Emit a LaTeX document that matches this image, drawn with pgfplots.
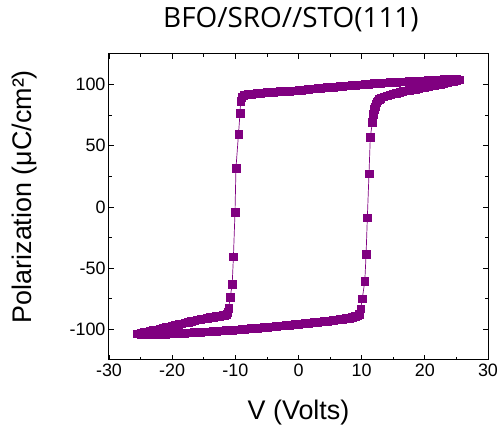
\documentclass[border=0pt]{standalone}
\usepackage{fontspec}
\setmainfont{Liberation Sans}
\newfontfamily\titlefont{Open Sans}
\usepackage{pgfplots}
\pgfplotsset{compat=1.18}
\definecolor{pm}{RGB}{128,0,128}
\begin{document}
\begin{tikzpicture}
\begin{axis}[
 scale only axis, width=379bp, height=306bp,
 xmin=-30, xmax=30, ymin=-125, ymax=125,
 xtick={-30,-20,...,30}, ytick={-100,-50,...,100},
 minor x tick num=1, minor y tick num=1,
 tick align=inside, major tick length=5bp, minor tick length=3bp,
 axis line style={line width=1pt},
 every tick/.style={black, line width=0.8pt},
 /pgf/number format/assume math mode=true,
 tick label style={font=\fontsize{18}{20}\selectfont},
 xlabel={V (Volts)}, ylabel={Polarization (μC/cm²)},
 label style={font=\fontsize{27}{30}\selectfont},
 xlabel style={at={(axis description cs:0.5,-0.196)}, anchor=base},
 ylabel style={at={(axis description cs:-0.222,0.534)}, anchor=center},
 title={BFO/SRO//STO(111)},
 title style={font=\titlefont\fontsize{28}{30}\selectfont, at={(axis description cs:0.48,1.0666)}, anchor=base},
]
\addplot[color=pm, line width=0.7pt, mark=square*, mark size=3.8bp,
  mark options={fill=pm, draw=pm, line width=0.3pt}] coordinates {
 (-25.5,-103.5) (-25,-104) (-24.5,-104) (-24,-104) (-23.5,-104) (-23,-104)
 (-22.5,-104) (-22,-104) (-21.5,-103.9) (-21,-103.8) (-20.5,-103.6) (-20,-103.5)
 (-19.5,-103.4) (-19,-103.3) (-18.5,-103.1) (-18,-103) (-17.5,-102.8) (-17,-102.6)
 (-16.5,-102.4) (-16,-102.3) (-15.5,-102.1) (-15,-102) (-14.5,-101.8) (-14,-101.7)
 (-13.5,-101.5) (-13,-101.3) (-12.5,-101.1) (-12,-101) (-11.5,-100.8) (-11,-100.6)
 (-10.5,-100.4) (-10,-100.3) (-9.5,-100.1) (-9,-99.9) (-8.5,-99.7) (-8,-99.5)
 (-7.5,-99.2) (-7,-99) (-6.5,-98.8) (-6,-98.6) (-5.5,-98.3) (-5,-98.1)
 (-4.5,-97.8) (-4,-97.6) (-3.5,-97.3) (-3,-97.1) (-2.5,-96.8) (-2,-96.6)
 (-1.5,-96.3) (-1,-96.1) (-0.5,-95.8) (0,-95.6) (0.5,-95.3) (1,-95.1)
 (1.5,-94.8) (2,-94.6) (2.5,-94.3) (3,-94) (3.5,-93.7) (4,-93.4)
 (4.5,-93.1) (5,-92.8) (5.5,-92.5) (6,-92.2) (6.5,-91.8) (7,-91.4)
 (7.5,-91) (8,-90.6) (8.5,-90) (9,-89.3) (9.3,-88.7) (9.6,-87.5)
 (9.85,-83) (10.1,-74.8) (10.5,-60.5) (10.7,-38.6) (10.9,-8.6) (11.16,27.1)
 (11.37,57.1) (11.7,69.5) (11.85,75.7) (12,80) (12.1,82) (12.2,84)
 (12.35,85.5) (12.5,87) (12.75,88) (13,89) (13.5,90) (14,91)
 (14.5,91.8) (15,92.5) (15.5,93.2) (16,93.8) (16.5,94.4) (17,95)
 (17.5,95.5) (18,96) (18.5,96.5) (19,97) (19.5,97.5) (20,98)
 (20.5,98.5) (21,99) (21.5,99.5) (22,100) (22.5,100.5) (23,101)
 (23.5,101.7) (24,102.5) (24.5,103) (25,103.5) (25.5,104)
 (25,104.5) (24.5,104.5) (24,104.5) (23.5,104.4) (23,104.3) (22.5,104.2)
 (22,104) (21.5,103.8) (21,103.6) (20.5,103.5) (20,103.3) (19.5,103.1)
 (19,103) (18.5,102.9) (18,102.8) (17.5,102.6) (17,102.5) (16.5,102.4)
 (16,102.3) (15.5,102.1) (15,102) (14.5,101.8) (14,101.7) (13.5,101.5)
 (13,101.3) (12.5,101.1) (12,101) (11.5,100.7) (11,100.5) (10.5,100.2)
 (10,100) (9.5,99.8) (9,99.6) (8.5,99.4) (8,99.2) (7.5,99)
 (7,98.8) (6.5,98.5) (6,98.3) (5.5,98.1) (5,97.9) (4.5,97.7)
 (4,97.5) (3.5,97.2) (3,97) (2.5,96.8) (2,96.6) (1.5,96.3)
 (1,96) (0.5,95.7) (0,95.4) (-0.5,95.2) (-1,95) (-1.5,94.8)
 (-2,94.7) (-2.5,94.5) (-3,94.4) (-3.5,94.2) (-4,94) (-4.5,93.8)
 (-5,93.6) (-5.5,93.4) (-6,93.2) (-6.5,92.9) (-7,92.7) (-7.5,92.4)
 (-8,92.2) (-8.4,91.8) (-8.7,91.2) (-9,89.5)
 (-9.15,86.5) (-9.26,76.5) (-9.5,59.5) (-9.9,31.9) (-10.05,-4) (-10.3,-40.5)
 (-10.5,-63.2) (-10.8,-73.5) (-11.05,-82.4) (-11.2,-86) (-11.4,-87.5) (-11.7,-88.3)
 (-12,-88.6) (-12.5,-89) (-13,-89.4) (-13.5,-89.8) (-14,-90.2) (-14.5,-90.7)
 (-15,-91.2) (-15.5,-91.7) (-16,-92.2) (-16.5,-92.8) (-17,-93.4) (-17.5,-94)
 (-18,-94.6) (-18.5,-95.3) (-19,-95.9) (-19.5,-96.6) (-20,-97.2) (-20.5,-97.8)
 (-21,-98.4) (-21.5,-99) (-22,-99.6) (-22.5,-100.2) (-23,-100.7) (-23.5,-101.3)
 (-24,-101.9) (-24.5,-102.4) (-25,-103) (-25.5,-103.5)
};
\end{axis}
\path (current axis.south west) +(-109bp,-67bp) rectangle +(393bp,360bp);
\end{tikzpicture}
\end{document}
